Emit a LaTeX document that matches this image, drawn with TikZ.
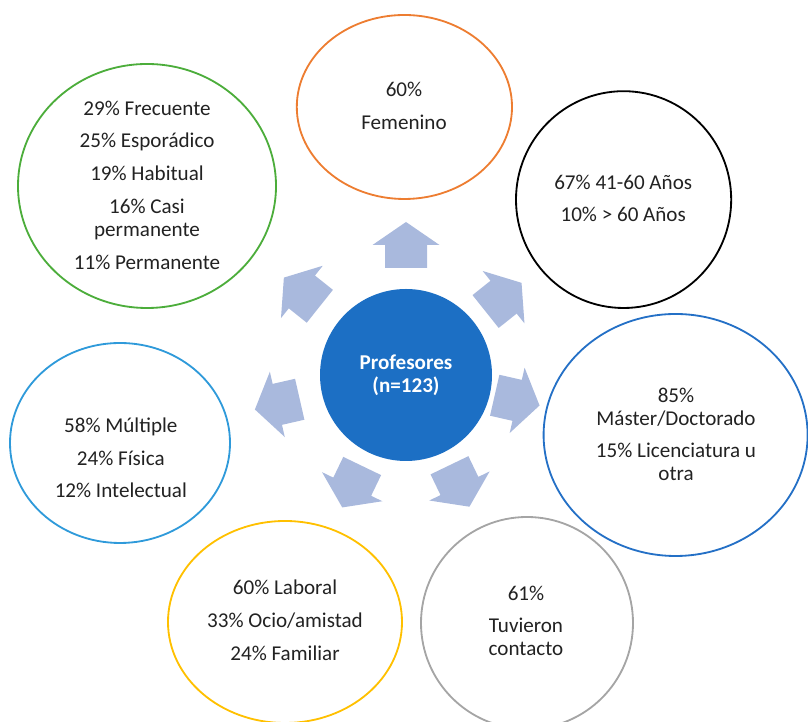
\documentclass[tikz,border=0pt]{standalone}
\usepackage{fontspec}
\setmainfont{Carlito}
\usetikzlibrary{shapes.geometric,calc}

\definecolor{azulcentro}{HTML}{1C6FC4}
\definecolor{flechagris}{HTML}{A9B9DD}
\definecolor{naranja}{HTML}{ED7D31}
\definecolor{verde}{HTML}{4CAD3B}
\definecolor{azulosc}{HTML}{2470C6}
\definecolor{gris}{HTML}{A5A5A5}
\definecolor{amarillo}{HTML}{FFC000}
\definecolor{azulcla}{HTML}{2F9ADA}
\definecolor{tinta}{HTML}{222222}

\begin{document}
\begin{tikzpicture}[
    burbuja/.style={ellipse,draw,line width=1.3pt,inner sep=0pt},
    texto/.style={align=center,text=tinta,font=\fontsize{15}{16.3}\selectfont},
    flecha/.style={fill=flechagris,draw=none}
]
    \clip (0,0) rectangle (20.2,18.05);
    \useasboundingbox (0,0) rectangle (20.2,18.05);

    % Central node
    \node[circle,fill=azulcentro,minimum size=4.3cm,inner sep=0pt,align=center,
          text=white,font=\fontsize{15}{16.3}\selectfont\bfseries] (prof) at (10.15,8.675) {Profesores\\(n=123)};

    % Arrows around the centre
    \foreach \ang/\dist in {90/3.25,38.57/3.12,-12.86/2.85,-64.29/3.08,-115.71/3.1,-167.14/3.3,141.43/3.33}
        \fill[flecha,shift={($(prof)+(\ang:\dist)$)},rotate=\ang]
            (-0.575,-0.525) -- (0,-0.525) -- (0,-0.8375) -- (0.575,0)
            -- (0,0.8375) -- (0,0.525) -- (-0.575,0.525) -- cycle;

    % Outer ellipses
    \node[burbuja,draw=naranja,minimum width=5.38cm,minimum height=4.6cm] (sexo) at (10.11,15.375) {};
    \node[burbuja,draw=black,minimum width=5.38cm,minimum height=5.42cm] (edad) at (15.59,13.06) {};
    \node[burbuja,draw=azulosc,minimum width=6.6cm,minimum height=6.05cm] (estudios) at (16.89,7.175) {};
    \node[burbuja,draw=gris,minimum width=5.3cm,minimum height=5.3cm] (contacto) at (13.175,2.475) {};
    \node[burbuja,draw=amarillo,minimum width=5.85cm,minimum height=5.05cm] (ambito) at (7.125,2.5) {};
    \node[burbuja,draw=azulcla,minimum width=5.5cm,minimum height=5cm] (discap) at (3.0,6.975) {};
    \node[burbuja,draw=verde,minimum width=6.45cm,minimum height=6.1cm] (frec) at (3.675,13.4) {};

    % Texts in the ellipses
    \node[texto] (sexoT) at (10.1,15.4) {60\%\\[7pt]Femenino};
    \node[texto] (edadT) at (15.58,13.09) {67\% 41-60 Años\\[7pt]10\% > 60 Años};
    \node[texto] (estudiosT) at (16.9,7.19) {85\%\\Máster/Doctorado\\[7pt]15\% Licenciatura u\\otra};
    \node[texto] (contactoT) at (13.15,2.53) {61\%\\[7pt]Tuvieron\\contacto};
    \node[texto] (ambitoT) at (7.125,2.54) {60\% Laboral\\[7pt]33\% Ocio/amistad\\[7pt]24\% Familiar};
    \node[texto] (discapT) at (3.02,6.6) {58\% Múltiple\\[7pt]24\% Física\\[7pt]12\% Intelectual};
    \node[texto] (frecT) at (3.675,13.425) {29\% Frecuente\\[7pt]25\% Esporádico\\[7pt]19\% Habitual\\[7pt]16\% Casi\\permanente\\[7pt]11\% Permanente};
\end{tikzpicture}
\end{document}
